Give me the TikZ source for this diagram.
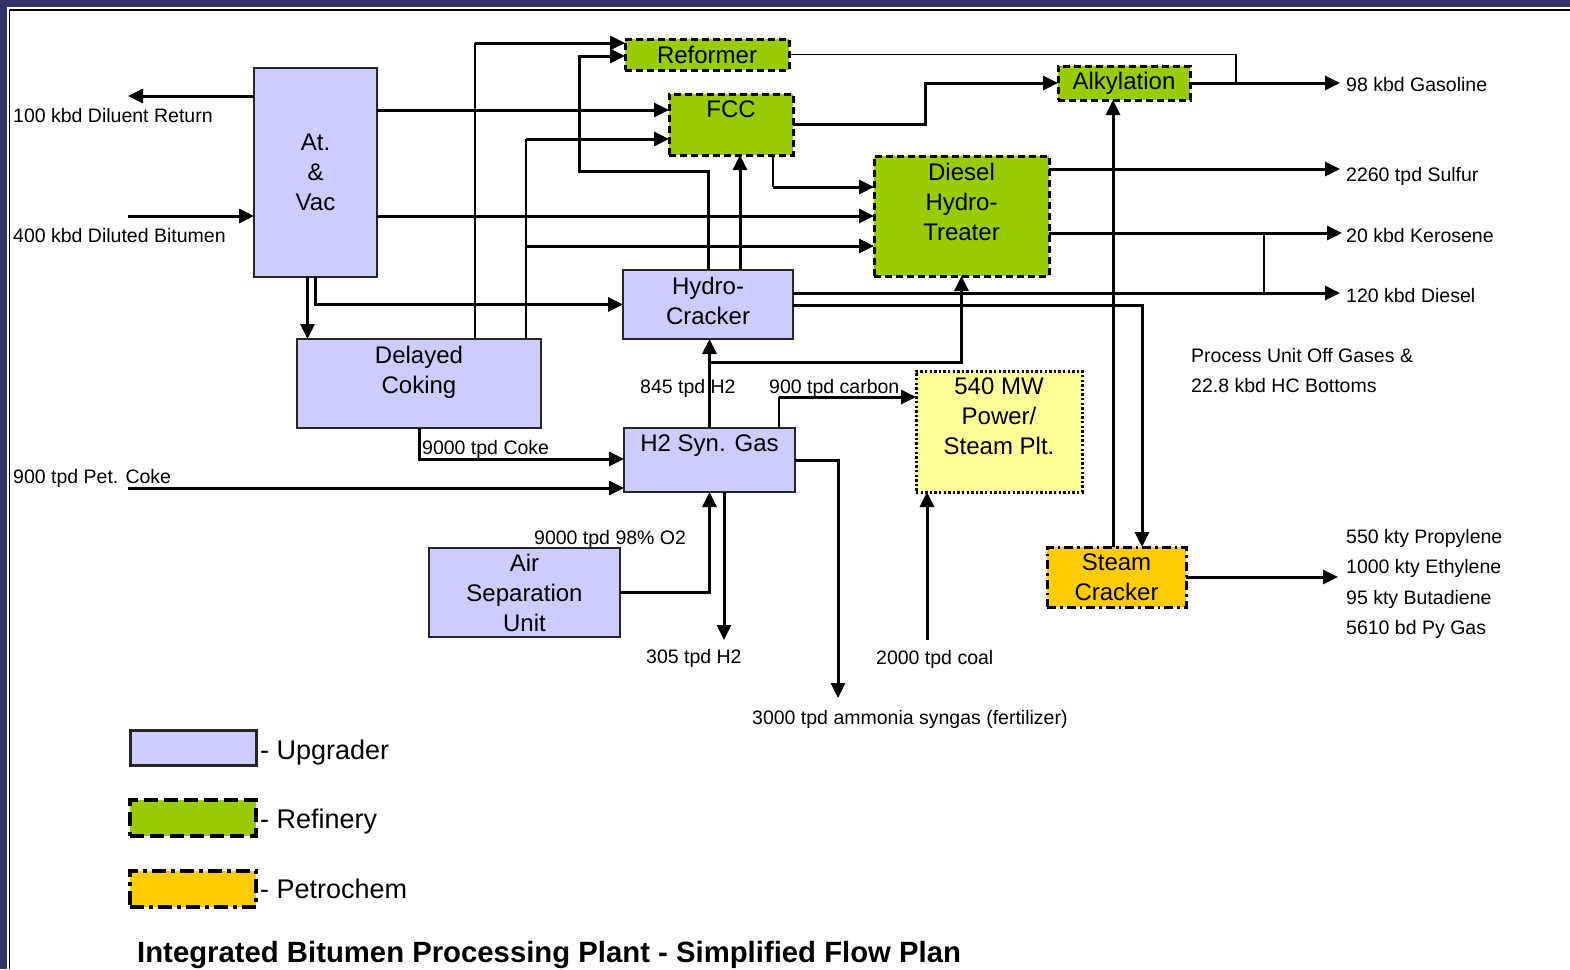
\documentclass[tikz,border=0pt]{standalone}
\usepackage{fontspec}
\setmainfont{Liberation Sans}
\usetikzlibrary{arrows.meta}

\definecolor{upgcol}{HTML}{CCCCFF}
\definecolor{refcol}{HTML}{99CC00}
\definecolor{petcol}{HTML}{FFCC00}
\definecolor{powcol}{HTML}{FFFF99}
\definecolor{framecol}{HTML}{333366}

\newcommand{\boxfont}{\fontsize{24}{30}\selectfont}
\newcommand{\flowfont}{\fontsize{19.5}{24}\selectfont}

\tikzset{
  unit/.style={rectangle, anchor=north west, inner sep=0pt, outer sep=0pt, align=center, font=\boxfont},
  upgrader/.style={unit, draw=black!85, line width=1.5pt, fill=upgcol},
  refinery/.style={unit, draw=black, line width=3pt, dash pattern=on 7pt off 4pt, fill=refcol},
  petrochem/.style={unit, draw=black, line width=3pt, dash pattern=on 9pt off 4pt on 2.5pt off 4pt, fill=petcol},
  powerplant/.style={unit, draw=black, line width=3pt, dash pattern=on 2.4pt off 2.2pt, fill=powcol},
  toptext/.style={label={[anchor=north, inner sep=7pt, align=center, font=\boxfont]north:#1}},
  mainline/.style={line width=3pt},
  feedline/.style={line width=1.5pt},
  flow/.style={mainline, -{Triangle[length=15pt, width=14pt]}},
  flowtext/.style={anchor=base west, inner sep=0pt, font=\flowfont},
  legendtext/.style={anchor=base west, inner sep=0pt, font=\fontsize{27}{32}\selectfont},
}

\begin{document}
\begin{tikzpicture}[x=1pt, y=-1pt]
\useasboundingbox (0,0) rectangle (1570,969);
\fill[white] (0,0) rectangle (1570,969);
% frame
\fill[framecol] (0,0) rectangle (1570,6.5);
\fill[framecol] (0,0) rectangle (7,969);
\draw[line width=1.5pt] (9.5,969) -- (9.5,10) -- (1570,10);

% process units
\node[upgrader, minimum width=123, minimum height=209] (atvac) at (254,68) {At.\\\&\\Vac};
\node[refinery, minimum width=164, minimum height=31] (reformer) at (625,39) {Reformer};
\node[refinery, minimum width=124, minimum height=61, toptext={FCC}] (fcc) at (669,94) {};
\node[refinery, minimum width=132, minimum height=34] (alky) at (1058,66) {Alkylation};
\node[refinery, minimum width=175, minimum height=120, toptext={Diesel\\Hydro-\\Treater}] (dht) at (874,156) {};
\node[upgrader, minimum width=170, minimum height=69, toptext={Hydro-\\Cracker}] (hc) at (623,270) {};
\node[upgrader, minimum width=244, minimum height=89, toptext={Delayed\\Coking}] (coking) at (297,339) {};
\node[upgrader, minimum width=171, minimum height=64, toptext={H2 Syn. Gas}] (h2) at (624,428) {};
\node[upgrader, minimum width=191, minimum height=89] (asu) at (429,548) {Air\\Separation\\Unit};
\node[powerplant, minimum width=166, minimum height=121, toptext={540 MW\\Power/\\Steam Plt.}] (power) at (916,371) {};
\node[petrochem, minimum width=139, minimum height=60] (sc) at (1047,547) {Steam\\Cracker};

% feeds and products
\coordinate (dilret) at (128,96);
\coordinate (dilbit) at (128,216);
\coordinate (petcoke) at (128,488);
\coordinate (gasoline) at (1340,83);
\coordinate (sulfur) at (1340,169);
\coordinate (kerosene) at (1342,233);
\coordinate (diesel) at (1340,293);
\coordinate (petchem) at (1338,577);
\coordinate (h2out) at (724,640);
\coordinate (ammonia) at (838,698);
\coordinate (coal) at (927,640);

% At. & Vac
\draw[flow] (atvac.west |- dilret) -- (dilret);
\draw[flow] (dilbit) -- (atvac.west |- dilbit);
\draw[flow] (atvac.east |- 0,110) -- (fcc.west |- 0,110);
\draw[flow] (atvac.east |- 0,216) -- (dht.west |- 0,216);
\draw[flow] ([xshift=-8]atvac.south) -- ([xshift=-8]atvac.south |- coking.north);
\draw[flow] (atvac.south) |- (hc.west);

% Delayed Coking overheads
\draw[feedline] (coking.north -| 475,0) -- (475,43);
\draw[flow] (475,43) -- (reformer.west |- 0,43);
\draw[feedline] (coking.north -| 526,0) -- (526,139);
\draw[flow] (526,139) -- (fcc.west |- 0,139);
\draw[flow] (526,246) -- (dht.west |- 0,246);
\draw[flow] (coking.south) |- (h2.west |- 0,459);

% Hydro-Cracker
\draw[flow] (hc.north) -- (hc.north |- 0,171) -| (579,56) -- (reformer.west |- 0,56);
\draw[flow] (hc.north -| 740,0) -- (fcc.south -| 740,0);
\draw[flow] (hc.east |- diesel) -- (diesel);
\draw[flow] (hc.east |- 0,305) -| (sc.north -| 1142,0);

% FCC, Reformer, Alkylation
\draw[feedline] (fcc.south -| 773,0) -- (773,187);
\draw[flow] (773,187) -- (dht.west |- 0,187);
\draw[flow] (fcc.east) -- (925,124.5) |- (alky.west);
\draw[feedline] (reformer.east) -| (1236,83);
\draw[flow] (alky.east) -- (alky.east -| gasoline);

% Diesel Hydro-Treater
\draw[flow] (dht.east |- sulfur) -- (sulfur);
\draw[flow] (dht.east |- kerosene) -- (kerosene);
\draw[feedline] (1264,233) -- (1264,293);

% Steam Cracker
\draw[flow] (sc.north -| 1113,0) -- (alky.south -| 1113,0);
\draw[flow] (sc.east) -- (sc.east -| petchem);

% H2 Syn. Gas
\draw[flow] (h2.north) -- (h2.north |- hc.south);
\draw[flow] (h2.north |- 0,362) -| (dht.south);
\draw[feedline] (h2.north -| 779,0) -- (779,397);
\draw[flow] (779,397) -- (power.west |- 0,397);
\draw[flow] (petcoke) -- (h2.west |- petcoke);
\draw[flow] (asu.east) -| (h2.south);
\draw[flow] (h2.south -| h2out) -- (h2out);
\draw[flow] (h2.east |- 0,460) -| (ammonia);
\draw[flow] (coal) -- (power.south -| coal);

% stream labels
\node[flowtext] (tdilret) at (13,122) {100 kbd Diluent Return};
\node[flowtext] (tdilbit) at (13,242) {400 kbd Diluted Bitumen};
\node[flowtext] (tpetcoke) at (13,483) {900 tpd Pet. Coke};
\node[flowtext] (tcoke) at (422,454) {9000 tpd Coke};
\node[flowtext] (th2a) at (640,393) {845 tpd H2};
\node[flowtext] (tcarbon) at (769,393) {900 tpd carbon};
\node[flowtext] (toxy) at (534,544) {9000 tpd 98\% O2};
\node[flowtext] (th2b) at (646,663) {305 tpd H2};
\node[flowtext] (tcoal) at (876,664) {2000 tpd coal};
\node[flowtext] (tammonia) at (752,724) {3000 tpd ammonia syngas (fertilizer)};
\node[flowtext] (tgasoline) at (1346,91) {98 kbd Gasoline};
\node[flowtext] (tsulfur) at (1346,181) {2260 tpd Sulfur};
\node[flowtext] (tkerosene) at (1346,242) {20 kbd Kerosene};
\node[flowtext] (tdiesel) at (1346,302) {120 kbd Diesel};
\node[flowtext] (toffgas) at (1191,362) {Process Unit Off Gases \&};
\node[flowtext] (tbottoms) at (1191,392) {22.8 kbd HC Bottoms};
\node[flowtext] (tpropylene) at (1346,543) {550 kty Propylene};
\node[flowtext] (tethylene) at (1346,573) {1000 kty Ethylene};
\node[flowtext] (tbutadiene) at (1346,604) {95 kty Butadiene};
\node[flowtext] (tpygas) at (1346,634) {5610 bd Py Gas};

% legend
\node[upgrader, line width=3pt, minimum width=126, minimum height=35] (legupg) at (130,730) {};
\node[refinery, line width=4pt, dash pattern=on 14pt off 6pt, minimum width=126, minimum height=36] (legref) at (130,800) {};
\node[petrochem, line width=4pt, dash pattern=on 14pt off 5pt on 4pt off 5pt, minimum width=126, minimum height=36] (legpet) at (130,871) {};
\node[legendtext] (tlegupg) at (260,759) {- Upgrader};
\node[legendtext] (tlegref) at (260,828) {- Refinery};
\node[legendtext] (tlegpet) at (260,898) {- Petrochem};

% title
\node[anchor=base west, inner sep=0pt, font=\fontsize{29.3}{34}\selectfont\bfseries] (title) at (137,962) {Integrated Bitumen Processing Plant - Simplified Flow Plan};
\end{tikzpicture}
\end{document}
